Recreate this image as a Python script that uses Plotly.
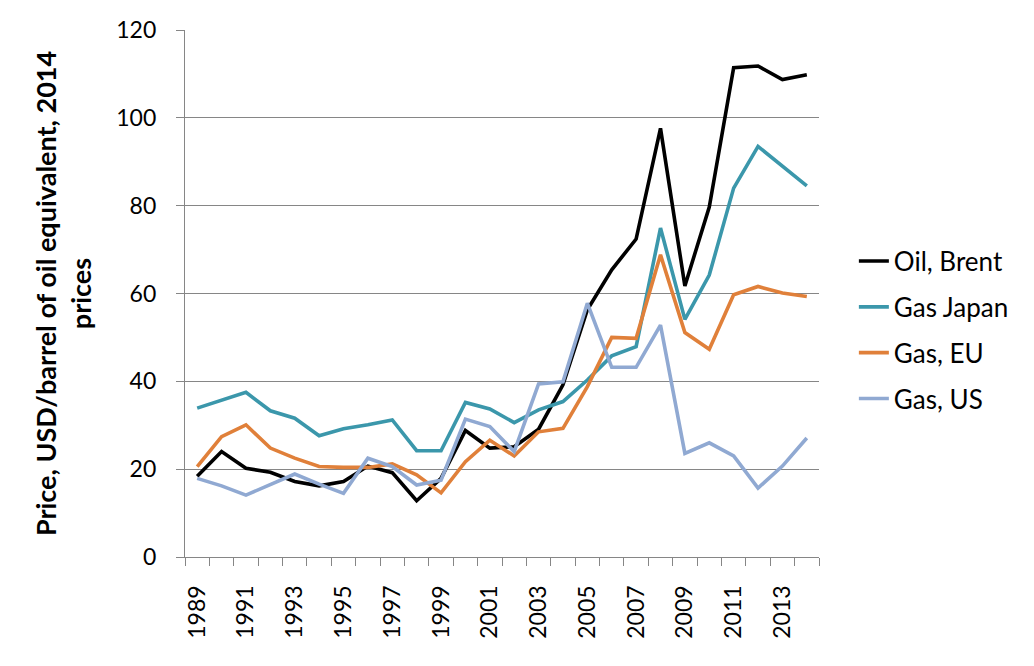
import plotly.graph_objects as go

years = list(range(1989, 2015))
oil_brent = [18.4, 24.0, 20.2, 19.3, 17.2, 16.2, 17.2, 20.7, 19.2, 12.8, 17.9, 28.8, 24.8,
             25.1, 29.1, 39.2, 56.3, 65.4, 72.4, 97.6, 61.7, 79.7, 111.4, 111.8, 108.7, 109.8]
gas_japan = [33.9, 35.8, 37.5, 33.3, 31.6, 27.6, 29.2, 30.1, 31.2, 24.2, 24.2, 35.2, 33.7,
             30.6, 33.5, 35.4, 40.3, 45.8, 47.9, 74.9, 54.1, 64.2, 84.0, 93.5, 89.1, 84.5]
gas_eu = [20.6, 27.4, 30.1, 24.8, 22.5, 20.6, 20.4, 20.4, 21.2, 18.7, 14.6, 21.7, 26.6,
          23.0, 28.5, 29.3, 38.8, 50.0, 49.8, 68.8, 51.1, 47.3, 59.7, 61.6, 60.1, 59.3]
gas_us = [17.9, 16.2, 14.1, 16.4, 18.9, 16.6, 14.5, 22.5, 20.6, 16.4, 17.5, 31.4, 29.7,
          24.0, 39.4, 39.9, 57.8, 43.2, 43.2, 52.8, 23.6, 26.0, 23.0, 15.7, 20.7, 27.1]

series = [
    ("Oil, Brent", oil_brent, "#000000"),
    ("Gas Japan", gas_japan, "#3B97AB"),
    ("Gas, EU", gas_eu, "#E0803A"),
    ("Gas, US", gas_us, "#90A9D2"),
]

tick_years = [y for y in years if y % 2 == 1]
boundaries = [y - 0.5 for y in years] + [years[-1] + 0.5]

font = "Lato, 'Open Sans', sans-serif"

fig = go.Figure()
for name, vals, color in series:
    fig.add_trace(go.Scatter(x=years, y=vals, name=name, mode="lines",
                             legendgroup=name,
                             line=dict(color=color, width=3.6)))

fig.update_layout(
    width=1034, height=666,
    margin=dict(l=177, r=223, t=22, b=117),
    paper_bgcolor="white", plot_bgcolor="white",
    font=dict(family=font, size=23, color="#000000"),
    showlegend=True,
    legend=dict(x=1.055, y=0.606, xanchor="left", yanchor="top",
                traceorder="grouped", tracegroupgap=9,
                font=dict(size=26), bgcolor="rgba(0,0,0,0)"),
    xaxis=dict(range=[1988.5, 2014.5], tickmode="array", tickvals=tick_years,
               ticktext=[str(y) for y in tick_years], tickangle=-90,
               ticks="", showgrid=False, zeroline=False, automargin=False,
               showline=True, linecolor="#868686", linewidth=1.3,
               ticklabelstandoff=18,
               minor=dict(tickmode="array", tickvals=boundaries, ticks="outside",
                          ticklen=8, tickcolor="#868686", showgrid=False),
               tickfont=dict(size=23)),
    yaxis=dict(range=[0, 120], dtick=20, showgrid=True, gridcolor="#868686",
               gridwidth=1, zeroline=False, showline=True, linecolor="#868686",
               linewidth=1.3, ticks="outside", ticklen=8, tickcolor="#868686",
               ticklabelstandoff=15, automargin=False,
               tickfont=dict(size=23),
               title=dict(text="<b>Price, USD/barrel of oil equivalent, 2014<br>prices</b>",
                          font=dict(size=27), standoff=16)),
)

fig.write_html("out.html")
